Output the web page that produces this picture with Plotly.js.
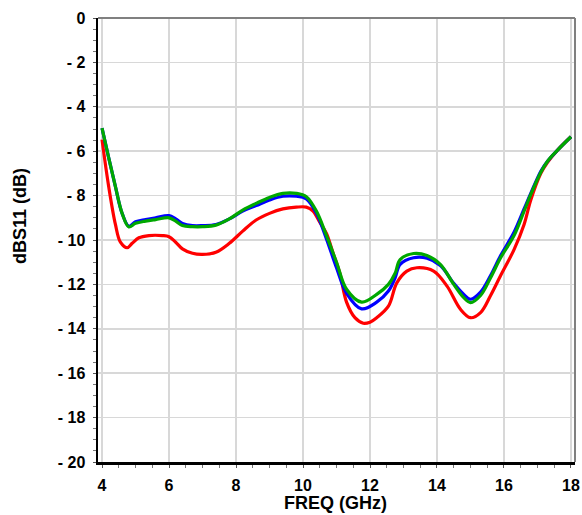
<!DOCTYPE html>
<html>
<head>
<meta charset="utf-8">
<script src="https://cdn.plot.ly/plotly-3.0.1.min.js"></script>
<style>html,body{margin:0;padding:0;background:#fff;}#chart{width:582px;height:515px;}</style>
</head>
<body>
<div id="chart"></div>
<script>
var freqGB = [4.0, 4.2, 4.4, 4.6, 4.8, 5.0, 5.3, 5.6, 6.0, 6.2, 6.4, 6.7, 7.0, 7.4, 7.8, 8.2, 8.6, 9.0, 9.4, 9.8, 10.1, 10.4, 10.7, 11.0, 11.3, 11.75, 12.2, 12.55, 12.75, 12.9, 13.3, 13.7, 14.1, 14.5, 14.8, 15.0, 15.3, 15.6, 15.9, 16.3, 16.6, 16.8, 17.1, 17.3, 17.6, 18.0];
var greenS11 = [-4.96, -6.3, -7.6, -8.8, -9.41, -9.25, -9.15, -9.08, -9.0, -9.15, -9.35, -9.4, -9.4, -9.33, -9.05, -8.65, -8.35, -8.08, -7.9, -7.9, -8.05, -8.7, -9.8, -11.0, -12.22, -12.8, -12.45, -12.0, -11.5, -10.88, -10.61, -10.7, -11.1, -12.0, -12.6, -12.82, -12.5, -11.7, -10.8, -9.8, -8.7, -7.95, -6.95, -6.45, -5.95, -5.35];
var blueS11 = [-4.96, -6.3, -7.6, -8.8, -9.38, -9.18, -9.08, -9.0, -8.9, -9.05, -9.25, -9.35, -9.35, -9.3, -9.05, -8.7, -8.45, -8.2, -8.03, -8.03, -8.15, -8.8, -9.95, -11.25, -12.4, -13.1, -12.8, -12.3, -11.7, -11.1, -10.8, -10.82, -11.15, -11.95, -12.45, -12.67, -12.35, -11.6, -10.7, -9.65, -8.6, -7.9, -6.9, -6.45, -5.95, -5.35];
var freqR = [4.0, 4.2, 4.4, 4.55, 4.75, 4.9, 5.1, 5.4, 5.8, 6.0, 6.2, 6.4, 6.7, 7.0, 7.4, 7.8, 8.2, 8.6, 9.0, 9.4, 9.8, 10.1, 10.3, 10.5, 10.7, 10.9, 11.1, 11.3, 11.55, 11.8, 12.0, 12.2, 12.55, 12.8, 13.1, 13.4, 13.9, 14.3, 14.7, 15.0, 15.3, 15.6, 15.9, 16.3, 16.6, 16.8, 17.1, 17.3, 17.6, 18.0];
var redS11 = [-5.48, -7.6, -9.3, -10.1, -10.35, -10.15, -9.9, -9.8, -9.8, -9.85, -10.1, -10.4, -10.6, -10.65, -10.55, -10.15, -9.6, -9.1, -8.8, -8.6, -8.52, -8.52, -8.7, -9.2, -9.7, -10.6, -11.5, -12.8, -13.5, -13.75, -13.7, -13.5, -12.98, -11.93, -11.4, -11.25, -11.4, -12.08, -13.12, -13.5, -13.27, -12.5, -11.6, -10.43, -9.3, -8.2, -7.0, -6.5, -5.95, -5.35];
var xTicks = [4, 6, 8, 10, 12, 14, 16, 18];
var yTicks = [0, -2, -4, -6, -8, -10, -12, -14, -16, -18, -20];
var yTickText = ["0", "- 2", "- 4", "- 6", "- 8", "- 10", "- 12", "- 14", "- 16", "- 18", "- 20"];
var xTitle = 'FREQ (GHz)';
var yTitle = 'dBS11 (dB)';

var traces = [
  {x: freqR, y: redS11, mode: 'lines', line: {color: '#ff0000', width: 3.2, shape: 'spline', smoothing: 1.0}, hoverinfo: 'skip'},
  {x: freqGB, y: blueS11, mode: 'lines', line: {color: '#0000ff', width: 3.2, shape: 'spline', smoothing: 1.0}, hoverinfo: 'skip'},
  {x: freqGB, y: greenS11, mode: 'lines', line: {color: '#00a800', width: 3.2, shape: 'spline', smoothing: 1.0}, hoverinfo: 'skip'}
];
var fam = 'Liberation Sans, Arial, sans-serif';
var tf = {family: fam, size: 16, color: '#000', weight: 'bold'};
var titleFont = {family: fam, size: 18, color: '#000', weight: 'bold'};
var layout = {
  width: 582, height: 515,
  margin: {l: 98, r: 7, t: 18, b: 53},
  paper_bgcolor: '#fff', plot_bgcolor: '#fff',
  showlegend: false,
  xaxis: {
    range: [3.88, 18.12], tickvals: xTicks, ticktext: xTicks.map(String),
    showgrid: true, gridcolor: '#d8d8d8', gridwidth: 1.5, zeroline: false,
    showline: true, linecolor: '#000', linewidth: 2.5, mirror: false,
    ticks: 'outside', ticklen: 3, tickcolor: '#555', tickwidth: 1,
    minor: {dtick: 0.5, ticks: 'outside', ticklen: 3, tickcolor: '#777', tickwidth: 1, showgrid: false},
    tickfont: tf, ticklabelstandoff: 4
  },
  yaxis: {
    range: [-20, 0], tickvals: yTicks, ticktext: yTickText,
    showgrid: true, gridcolor: '#d8d8d8', gridwidth: 1.5, zeroline: false,
    showline: true, linecolor: '#000', linewidth: 2.5, mirror: false,
    ticks: 'outside', ticklen: 3, tickcolor: '#555', tickwidth: 1,
    minor: {dtick: 0.5, ticks: 'outside', ticklen: 3, tickcolor: '#777', tickwidth: 1, showgrid: false},
    tickfont: tf, ticklabelstandoff: 4
  },
  annotations: [
    {text: xTitle, xref: 'paper', yref: 'paper', x: 0.497, y: -0.0923, xanchor: 'center', yanchor: 'middle', showarrow: false, font: titleFont},
    {text: yTitle, xref: 'paper', yref: 'paper', x: -0.1635, y: 0.554, xanchor: 'center', yanchor: 'middle', textangle: -90, showarrow: false, font: titleFont}
  ],
  shapes: [
    {type: 'line', xref: 'paper', yref: 'paper', x0: 0, x1: 1, y0: 1, y1: 1, line: {color: '#808080', width: 2}, layer: 'above'},
    {type: 'line', xref: 'paper', yref: 'paper', x0: 1, x1: 1, y0: 0, y1: 1, line: {color: '#808080', width: 2}, layer: 'above'}
  ]
};
Plotly.newPlot('chart', traces, layout, {displayModeBar: false, staticPlot: true});
</script>
</body>
</html>
